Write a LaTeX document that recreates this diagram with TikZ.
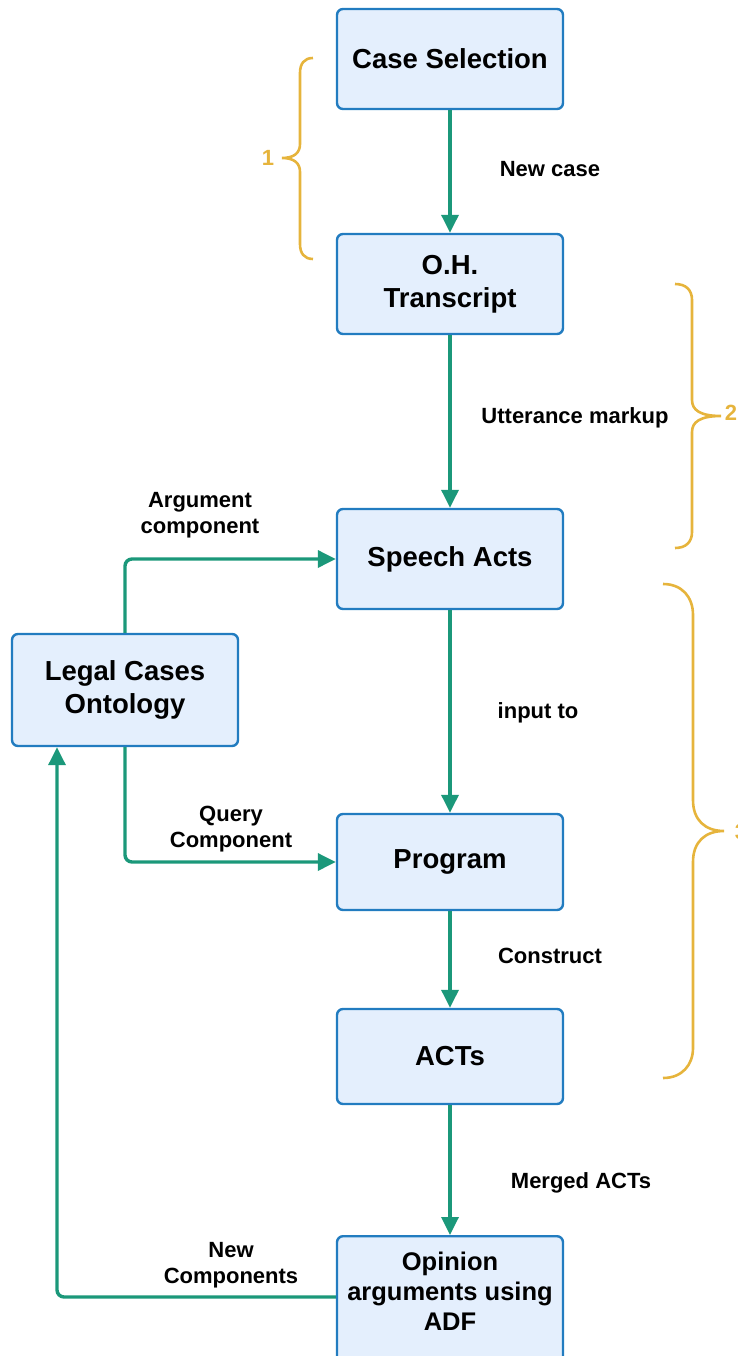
\documentclass[tikz,border=0pt]{standalone}
\usepackage{fontspec}
\setmainfont{Liberation Sans}
\usetikzlibrary{arrows.meta}
\definecolor{boxfill}{RGB}{228,239,253}
\definecolor{boxline}{RGB}{34,124,192}
\definecolor{flow}{RGB}{27,152,122}
\definecolor{brace}{RGB}{230,180,60}
\tikzset{
  stage/.style={draw=boxline, fill=boxfill, line width=2.4pt, rounded corners=6pt,
    minimum width=226pt, minimum height=100pt, inner sep=0pt, align=center,
    font=\fontsize{27.5}{33}\selectfont\bfseries},
  flowarrow/.style={draw=flow, line width=3.4pt, rounded corners=7pt,
    -{Triangle[width=17pt,length=18pt]}},
  edgelabel/.style={inner sep=0pt, align=center, font=\fontsize{22}{26}\selectfont\bfseries},
  bracepath/.style={draw=brace, line width=2.6pt},
  bracelabel/.style={text=brace, inner sep=0pt, font=\fontsize{22}{26}\selectfont\bfseries},
}
\begin{document}
\begin{tikzpicture}[x=1pt,y=-1pt]
\useasboundingbox (0,0) rectangle (738,1356);

% stages of the pipeline
\node[stage] (select) at (450,59) {Case Selection};
\node[stage] (oh) at (450,284) {O.H.\\Transcript};
\node[stage] (speech) at (450,559) {Speech Acts};
\node[stage, minimum height=112pt] (onto) at (125,690) {Legal Cases\\Ontology};
\node[stage, minimum height=96pt] (program) at (450,862) {Program};
\node[stage, minimum height=95pt] (acts) at (450,1056.5) {ACTs};
\node[stage, minimum height=150pt, anchor=north] (opinion) at (450,1235) {};
\node[edgelabel, font=\fontsize{25.5}{30}\selectfont\bfseries] (opiniontext) at (450,1291) {Opinion\\arguments using\\ADF};

% main vertical flow
\draw[flowarrow] (select) -- (oh);
\draw[flowarrow] (oh) -- (speech);
\draw[flowarrow] (speech) -- (program);
\draw[flowarrow] (program) -- (acts);
\draw[flowarrow] (acts) -- (opinion);

\node[edgelabel] (lnew) at (550,169) {New case};
\node[edgelabel] (lutter) at (575,418) {Utterance markup};
\node[edgelabel] (linput) at (538,713) {input to};
\node[edgelabel] (lconstr) at (550,956) {Construct};
\node[edgelabel] (lmerged) at (581,1183) {Merged ACTs};

% ontology links
\draw[flowarrow] (onto.north) |- (speech.west);
\draw[flowarrow] (onto.south) |- (program.west);
\coordinate (back) at (57,1297);
\draw[flowarrow] (opinion.west |- back) -- (back) -- (onto.south -| back);

\node[edgelabel] (larg) at (200,515) {Argument\\component};
\node[edgelabel] (lquery) at (231,829) {Query\\Component};
\node[edgelabel] (lcomp) at (231,1265) {New\\Components};

% phase braces
\draw[bracepath] (313,58) .. controls (304,58) and (300,64) .. (300,73) -- (300,144)
  .. controls (300,153) and (294,158) .. (282,158)
  .. controls (294,158) and (300,163) .. (300,172) -- (300,244)
  .. controls (300,253) and (304,259) .. (313,259);
\node[bracelabel] (b1) at (268,158) {1};

\draw[bracepath] (675,284) .. controls (686,284) and (692,290) .. (692,300) -- (692,400)
  .. controls (692,410) and (700,416) .. (721,416)
  .. controls (700,416) and (692,422) .. (692,432) -- (692,532)
  .. controls (692,542) and (686,548) .. (675,548);
\node[bracelabel] (b2) at (731,413) {2};

\draw[bracepath] (663,584) .. controls (682,584) and (693,597) .. (693,615) -- (693,800)
  .. controls (693,820) and (705,831) .. (724,831)
  .. controls (705,831) and (693,842) .. (693,862) -- (693,1048)
  .. controls (693,1065) and (682,1078) .. (663,1078);
\node[bracelabel] (b3) at (741,832) {3};
\end{tikzpicture}
\end{document}
